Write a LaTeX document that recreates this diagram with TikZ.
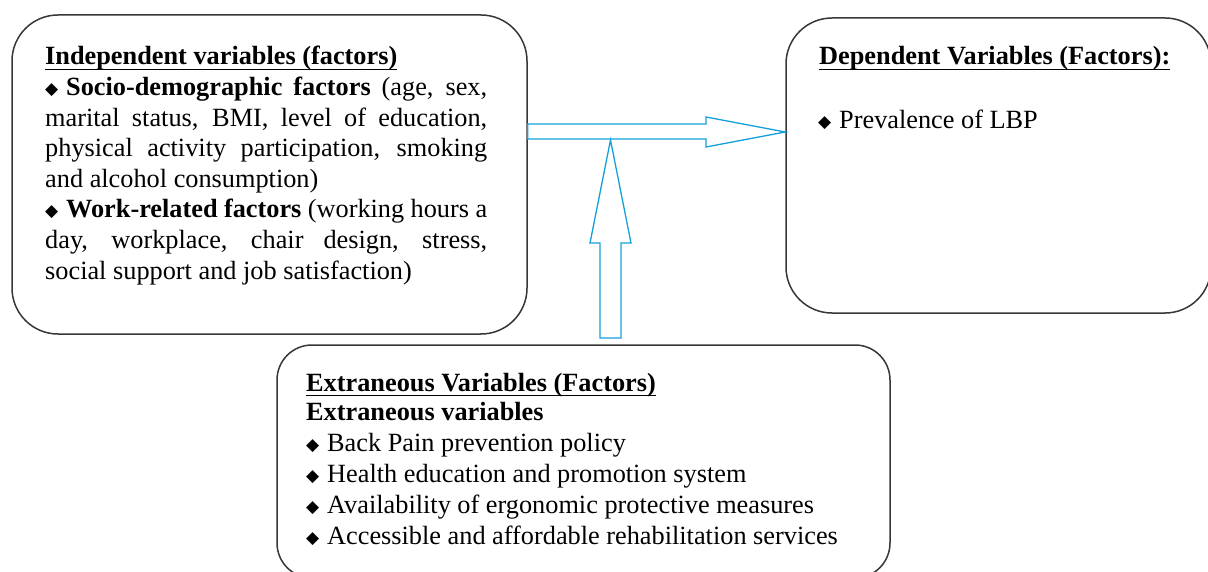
\documentclass[tikz,border=0pt]{standalone}
\usepackage{fontspec}
\setmainfont{Liberation Serif}
\newfontfamily\symf{DejaVu Sans}
\usetikzlibrary{calc}

\definecolor{arrowblue}{RGB}{20,160,218}
\definecolor{framegray}{RGB}{55,55,55}

% small black diamond used as list bullet
\newcommand\bul{\makebox[21pt][l]{\raisebox{1.5pt}{\symf\fontsize{17}{17}\selectfont\char"25C6}}}
% heading underline drawn below the baseline, across descenders
\newcommand\hdul[1]{\setbox0=\hbox{#1}\rlap{\rule[-5pt]{\wd0}{1.4pt}}\box0}

\tikzset{
  varbox/.style={draw=framegray, line width=1.5pt, rectangle, inner sep=0pt, fill=white},
  ln/.style={inner sep=0pt, anchor=base west, font=\fontsize{26.3}{30}\selectfont},
  blockarrow/.style={draw=arrowblue, line width=1.3pt, fill=white, line join=miter},
}

\begin{document}
\begin{tikzpicture}[x=1pt, y=-1pt]
\useasboundingbox (0,0) rectangle (1208,572);
\clip (0,0) rectangle (1208,572);

% the three variable boxes
\node[varbox, rounded corners=46pt, minimum width=515pt, minimum height=319pt] (indep) at (269.5,174.5) {};
\node[varbox, rounded corners=46pt, minimum width=425pt, minimum height=295pt] (dep) at (998.5,165.5) {};
\node[varbox, rounded corners=35pt, minimum width=613pt, minimum height=233pt] (extr) at (583.5,461.5) {};

% independent variables
\node[ln] (i1) at (45,65) {\hdul{\textbf{Independent variables (factors)}}};
\node[ln] (i2) at (45,95.6) {\makebox[442pt][s]{\bul\textbf{Socio-demographic factors} (age, sex,}};
\node[ln] (i3) at (45,126.2) {\makebox[442pt][s]{marital status, BMI, level of education,}};
\node[ln] (i4) at (45,156.8) {\makebox[442pt][s]{physical activity participation, smoking}};
\node[ln] (i5) at (45,187.4) {and alcohol consumption)};
\node[ln] (i6) at (45,218) {\makebox[442pt][s]{\bul\textbf{Work-related factors} (working hours a}};
\node[ln] (i7) at (45,248.6) {\makebox[442pt][s]{day, workplace, chair design, stress,}};
\node[ln] (i8) at (45,279.2) {social support and job satisfaction)};

% dependent variables
\node[ln] (d1) at (819,65) {\hdul{\textbf{Dependent Variables (Factors):}}};
\node[ln] (d2) at (818,129) {\bul Prevalence of LBP};

% extraneous variables
\node[ln] (e1) at (306,391) {\hdul{\textbf{Extraneous Variables (Factors)}}};
\node[ln] (e2) at (306,420) {\textbf{Extraneous variables}};
\node[ln] (e3) at (306,451.5) {\bul Back Pain prevention policy};
\node[ln] (e4) at (306,482.5) {\bul Health education and promotion system};
\node[ln] (e5) at (306,513.5) {\bul Availability of ergonomic protective measures};
\node[ln] (e6) at (306,544.5) {\bul Accessible and affordable rehabilitation services};

% block arrow: independent -> dependent
\draw[blockarrow] (indep.east |- 0,124) -- (706,124) -- (706,117)
  -- (dep.west |- 0,132) -- (706,147) -- (706,139) -- (indep.east |- 0,139) -- cycle;
% block arrow: extraneous -> relation
\draw[blockarrow] (600,338) -- (600,243) -- (590,243) -- (610.5,140)
  -- (631,243) -- (621,243) -- (621,338) -- cycle;
\end{tikzpicture}
\end{document}
